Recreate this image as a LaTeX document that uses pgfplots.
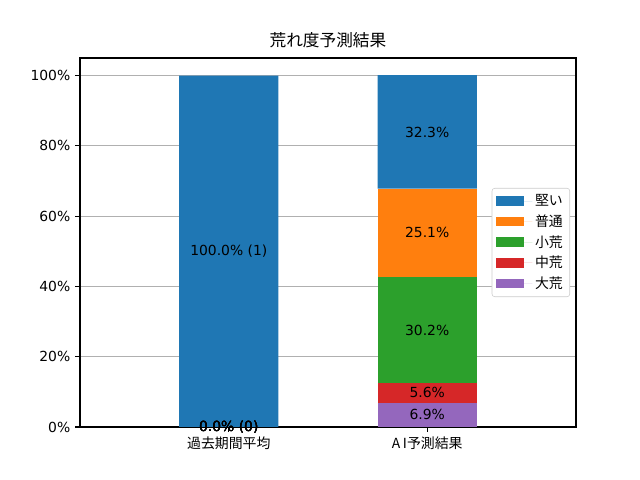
\documentclass[border=0pt]{standalone}
\usepackage{fontspec}
\setmainfont{DejaVu Sans}
\newfontfamily\jp{Noto Sans CJK JP}
\usepackage{pgfplots}
\pgfplotsset{compat=1.18}
\definecolor{cblue}{HTML}{1F77B4}
\definecolor{corange}{HTML}{FF7F0E}
\definecolor{cgreen}{HTML}{2CA02C}
\definecolor{cred}{HTML}{D62728}
\definecolor{cpurple}{HTML}{9467BD}
\begin{document}
\begin{tikzpicture}
\path[use as bounding box] (-57.6pt,-38.16pt) rectangle (403.2pt,307.44pt);
\begin{axis}[
  at={(0,0)}, anchor=south west, scale only axis,
  width=357.12pt, height=265.68pt,
  ybar stacked, bar width=0.5,
  xmin=-0.75, xmax=1.75, ymin=0, ymax=105,
  xtick={0,1}, xticklabels={{\jp 過去期間平均},{\jp A\hspace{2pt}I予測結果}},
  ytick={0,20,40,60,80,100},
  yticklabel={\pgfmathprintnumber[fixed,precision=0]{\tick}\%},
  /pgf/number format/assume math mode=true,
  ymajorgrids, grid style={color=black!31, line width=0.8pt},
  axis line style={line width=0.8pt},
  tick align=outside, tick pos=left, major tick length=3.5pt,
  tick style={line width=0.8pt, black},
  ticklabel style={font=\fontsize{10}{12}\selectfont},
  title={\jp 荒れ度予測結果},
  title style={font=\fontsize{12}{14}\selectfont, yshift=-2pt},
  reverse legend,
  legend cell align=left,
  legend style={at={(0.988,0.5)}, anchor=east, font=\jp\fontsize{10}{12}\selectfont,
    draw=black!20, rounded corners=2pt, inner xsep=3pt, inner ysep=2.5pt, row sep=1pt},
  legend image code/.code={\fill[#1, sharp corners] (0pt,-3.5pt) rectangle (20pt,3.5pt);
    \path (0pt,0pt) -- (26pt,0pt);},
]
\addplot[fill=cpurple, draw=none] coordinates {(0,0) (1,6.9)};
\addlegendentry{大荒}
\addplot[fill=cred, draw=none] coordinates {(0,0) (1,5.6)};
\addlegendentry{中荒}
\addplot[fill=cgreen, draw=none] coordinates {(0,0) (1,30.2)};
\addlegendentry{小荒}
\addplot[fill=corange, draw=none] coordinates {(0,0) (1,25.1)};
\addlegendentry{普通}
\addplot[fill=cblue, draw=none] coordinates {(0,100) (1,32.3)};
\addlegendentry{堅い}
\end{axis}
\begin{axis}[
  at={(0,0)}, anchor=south west, scale only axis,
  width=357.12pt, height=265.68pt,
  xmin=-0.75, xmax=1.75, ymin=0, ymax=105,
  hide axis, clip=false,
]
\addplot[only marks, mark=none, point meta=explicit symbolic,
  nodes near coords, nodes near coords align=center,
  every node near coord/.append style={anchor=center, black, font=\fontsize{10}{12}\selectfont}]
  coordinates {
    (0,50) [100.0\% (1)]
    (0,0) [0.0\% (0)]
    (0,0) [0.0\% (0)]
    (0,0) [0.0\% (0)]
    (0,0) [0.0\% (0)]
    (1,3.45) [6.9\%]
    (1,9.7) [5.6\%]
    (1,27.6) [30.2\%]
    (1,55.25) [25.1\%]
    (1,83.95) [32.3\%]
  };
\end{axis}
\end{tikzpicture}
\end{document}
